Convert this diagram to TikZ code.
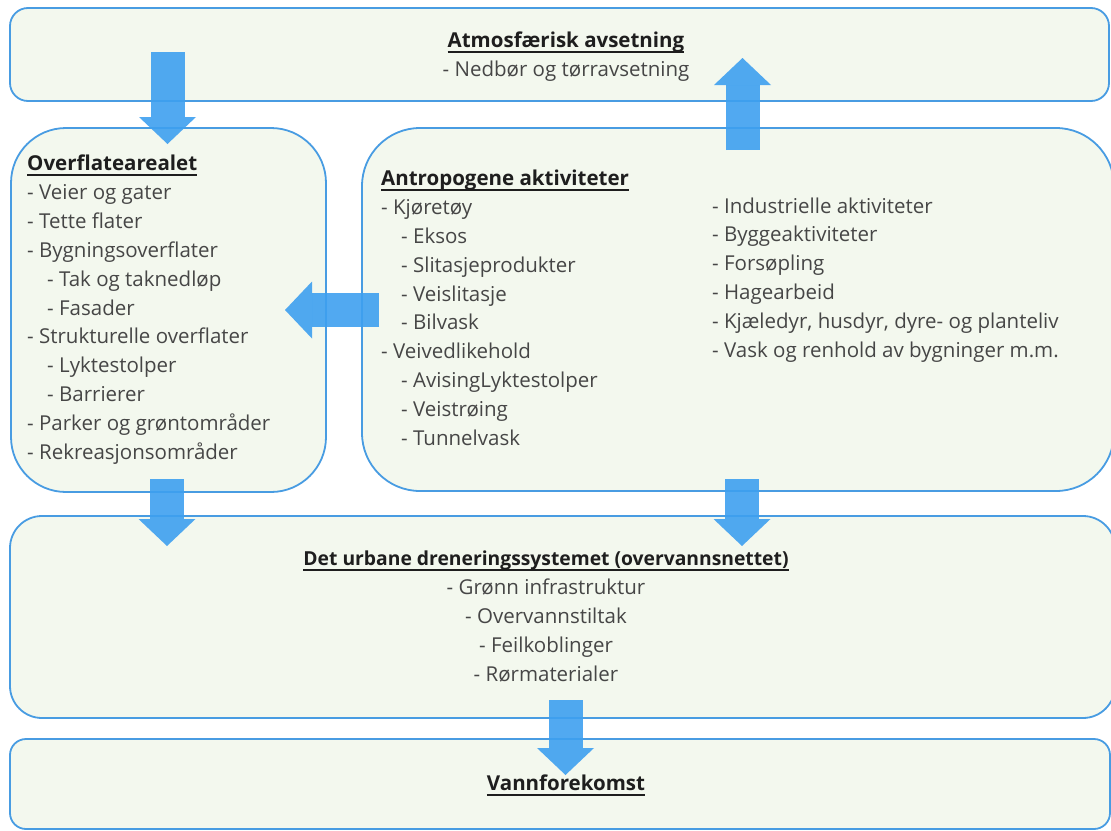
\documentclass[tikz,border=0pt]{standalone}
\usepackage{fontspec}
\setmainfont{Open Sans}
\usepackage{tikz}
\usetikzlibrary{arrows.meta, positioning}

\definecolor{boxfill}{RGB}{243,248,238}
\definecolor{boxline}{RGB}{72,156,226}
\definecolor{flowblue}{RGB}{62,160,240}
\definecolor{itemgray}{RGB}{70,70,70}
\definecolor{headgray}{RGB}{30,30,30}

\newcommand{\ulhead}[1]{\setbox0\hbox{#1}\rlap{\rule[-5.5pt]{\wd0}{1.8pt}}\box0}

\tikzstyle{area} = [rectangle, draw=boxline, line width=1.8pt, fill=boxfill, inner sep=0pt]
\tikzstyle{title} = [inner sep=0pt, text=headgray, font=\fontsize{20.5}{28.8}\selectfont\bfseries]
\tikzstyle{items} = [inner sep=0pt, text=itemgray, align=left, font=\fontsize{20.5}{28.8}\selectfont]
\tikzstyle{flow} = [line width=34pt, draw=flowblue, opacity=0.9, -{Triangle[width=57pt,length=27pt,line width=0pt]}]

\begin{document}
\begin{tikzpicture}[x=1pt, y=-1pt]
        \useasboundingbox (0,0) rectangle (1111,830);
        \clip (0,0) rectangle (1111,830);

        % boxes
        \node (atmos) [area, rounded corners=18pt, minimum width=1099pt, minimum height=93pt] at (559.5,54.5) {};
        \node (surface) [area, rounded corners=55pt, minimum width=315pt, minimum height=364pt] at (168.5,310) {};
        \node (activity) [area, rounded corners=58pt, minimum width=752pt, minimum height=363pt] at (738,309.5) {};
        \node (drainage) [area, rounded corners=32pt, minimum width=1105pt, minimum height=202pt] at (562.5,617) {};
        \node (recipient) [area, rounded corners=16pt, minimum width=1100pt, minimum height=90pt] at (560,784) {};

        % arrow ends
        \coordinate (atmos-down) at (167.5,52);
        \coordinate (surface-in) at (167.5,144);
        \coordinate (activity-up) at (742.5,150);
        \coordinate (atmos-in) at (742.5,58);
        \coordinate (activity-left) at (379,310);
        \coordinate (surface-side) at (285,310);
        \coordinate (surface-down) at (167,479);
        \coordinate (drain-in1) at (167,546);
        \coordinate (activity-down) at (742,479);
        \coordinate (drain-in2) at (742,546);
        \coordinate (drain-down) at (565.5,700);
        \coordinate (recipient-in) at (565.5,775);

        \draw [flow] (atmos-down) -- (surface-in);
        \draw [flow] (activity-up) -- (atmos-in);
        \draw [flow] (activity-left) -- (surface-side);
        \draw [flow] (surface-down) -- (drain-in1);
        \draw [flow] (activity-down) -- (drain-in2);
        \draw [flow] (drain-down) -- (recipient-in);

        % texts (multi-line nodes sit on their last baseline)
        \node (atmos-title) [title, anchor=base] at (566,47) {\ulhead{Atmosfærisk avsetning}};
        \node (atmos-items) [items, anchor=base] at (566,76) {- Nedbør og tørravsetning};

        \node (surface-title) [title, anchor=base west] at (27,170) {\ulhead{Overflatearealet}};
        \node (surface-items) [items, anchor=base west] at (27,459) {- Veier og gater\\- Tette flater\\- Bygningsoverflater\\\hspace*{20pt}- Tak og taknedløp\\\hspace*{20pt}- Fasader\\- Strukturelle overflater\\\hspace*{20pt}- Lyktestolper\\\hspace*{20pt}- Barrierer\\- Parker og grøntområder\\- Rekreasjonsområder};

        \node (activity-title) [title, anchor=base west] at (381,185) {\ulhead{Antropogene aktiviteter}};
        \node (activity-items) [items, anchor=base west] at (381,445) {- Kjøretøy\\\hspace*{20pt}- Eksos\\\hspace*{20pt}- Slitasjeprodukter\\\hspace*{20pt}- Veislitasje\\\hspace*{20pt}- Bilvask\\- Veivedlikehold\\\hspace*{20pt}- AvisingLyktestolper\\\hspace*{20pt}- Veistrøing\\\hspace*{20pt}- Tunnelvask};
        \node (activity-more) [items, anchor=base west] at (712,357) {- Industrielle aktiviteter\\- Byggeaktiviteter\\- Forsøpling\\- Hagearbeid\\- Kjæledyr, husdyr, dyre- og planteliv\\- Vask og renhold av bygninger m.m.};

        \node (drainage-title) [title, font=\fontsize{19.3}{28.8}\selectfont\bfseries, anchor=base] at (546,565) {\ulhead{Det urbane dreneringssystemet (overvannsnettet)}};
        \node (drainage-items) [items, align=center, anchor=base] at (546,681) {- Grønn infrastruktur\\- Overvannstiltak\\- Feilkoblinger\\- Rørmaterialer};

        \node (recipient-title) [title, anchor=base] at (566,790) {\ulhead{Vannforekomst}};
    \end{tikzpicture}
\end{document}
